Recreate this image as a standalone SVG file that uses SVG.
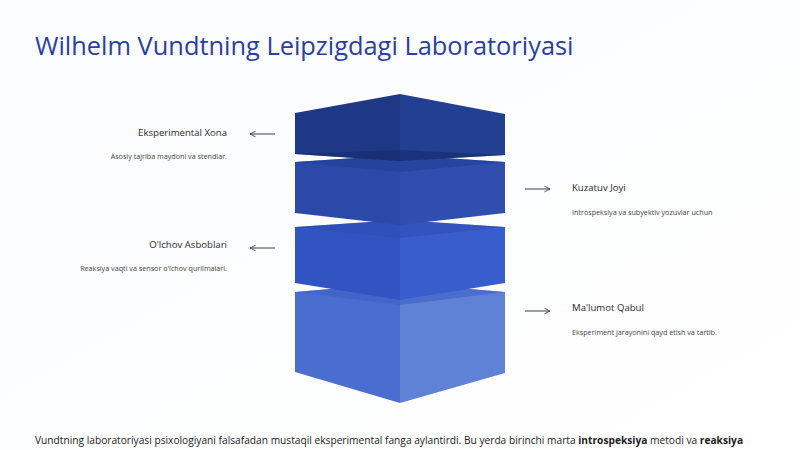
<svg xmlns="http://www.w3.org/2000/svg" width="800" height="450" viewBox="0 0 800 450">
<defs>
<style>
.title{font-family:"Open Sans","Noto Sans",sans-serif;font-size:25.4px;fill:#2b3f9e}
.lbl{font-family:"Open Sans","Noto Sans",sans-serif;font-size:9.6px;fill:#2a2a2a}
.desc{font-family:"Open Sans","Noto Sans",sans-serif;font-size:7.2px;fill:#444}
.body{font-family:"Open Sans","Noto Sans",sans-serif;font-size:10.2px;fill:#222}
.arr{stroke:#3a3f55;stroke-width:1;fill:none}
</style>
<marker id="ah" viewBox="0 0 10 10" refX="9" refY="5" markerWidth="7" markerHeight="7" orient="auto-start-reverse" markerUnits="userSpaceOnUse">
<path d="M1,1 L9,5 L1,9" fill="none" stroke="#3a3f55" stroke-width="1.2"/>
</marker>
<linearGradient id="bg" x1="0" y1="0" x2="1" y2="1">
<stop offset="0" stop-color="#fbfcfe"/><stop offset="1" stop-color="#ffffff"/>
</linearGradient>
</defs>
<rect width="800" height="450" fill="url(#bg)"/>
<text class="title" x="35" y="55">Wilhelm Vundtning Leipzigdagi Laboratoriyasi</text>

<g id="block4">
<polygon points="295,292 400,283 400,403 295,372" fill="#4a6dd0"/>
<polygon points="400,283 505,292 505,373 400,403" fill="#5f82d6"/>
<polygon points="295,292 400,283 505,292 400,305" fill="#3e60c6" opacity="0.6"/>
</g>
<g id="block3">
<polygon points="295,227 400,220 400,300 295,283" fill="#3254c2"/>
<polygon points="400,220 505,227 505,283 400,300" fill="#3a5dce"/>
<polygon points="295,227 400,220 505,227 400,238" fill="#2c4bb0" opacity="0.5"/>
</g>
<g id="block2">
<polygon points="295,162 400,155 400,225 295,213" fill="#2b49a9"/>
<polygon points="400,155 505,162 505,213 400,225" fill="#2f4eb0"/>
<polygon points="295,162 400,155 505,162 400,172" fill="#213d96" opacity="0.6"/>
</g>
<g id="block1">
<polygon points="295,113 400,94 400,161 295,154" fill="#1e3886"/>
<polygon points="400,94 505,114 505,155 400,161" fill="#233f91"/>
<polygon points="295,154 400,150 505,155 400,161" fill="#172d70" opacity="0.7"/>
</g>

<g id="connectors">
<line class="arr" x1="275" y1="134" x2="250" y2="134" marker-end="url(#ah)"/>
<line class="arr" x1="275" y1="248" x2="250" y2="248" marker-end="url(#ah)"/>
<line class="arr" x1="525" y1="189" x2="550" y2="189" marker-end="url(#ah)"/>
<line class="arr" x1="525" y1="311" x2="550" y2="311" marker-end="url(#ah)"/>
</g>

<g id="label-eksperimental">
<text class="lbl" x="227" y="136" text-anchor="end">Eksperimental Xona</text>
<text class="desc" x="227" y="159" text-anchor="end">Asosiy tajriba maydoni va stendlar.</text>
</g>
<g id="label-olchov">
<text class="lbl" x="227" y="248" text-anchor="end">O'lchov Asboblari</text>
<text class="desc" x="227" y="271" text-anchor="end">Reaksiya vaqti va sensor o'lchov qurilmalari.</text>
</g>
<g id="label-kuzatuv">
<text class="lbl" x="572" y="191">Kuzatuv Joyi</text>
<text class="desc" x="572" y="215">Introspeksiya va subyektiv yozuvlar uchun</text>
</g>
<g id="label-malumot">
<text class="lbl" x="572" y="311">Ma'lumot Qabul</text>
<text class="desc" x="572" y="335">Eksperiment jarayonini qayd etish va tartib.</text>
</g>

<text class="body" x="35" y="444">Vundtning laboratoriyasi psixologiyani falsafadan mustaqil eksperimental fanga aylantirdi. Bu yerda birinchi marta <tspan font-weight="bold">introspeksiya</tspan> metodi va <tspan font-weight="bold">reaksiya</tspan></text>
</svg>
